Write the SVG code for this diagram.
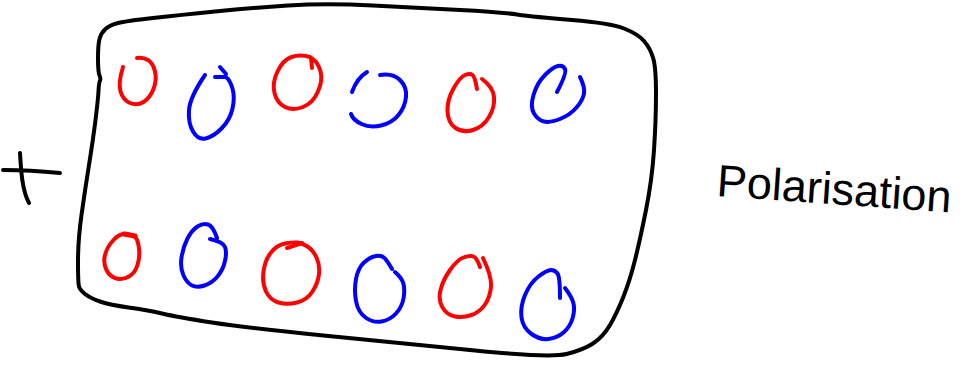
<svg xmlns="http://www.w3.org/2000/svg" width="962" height="371" viewBox="0 0 962 371">
<style>
.ink{fill:none;stroke-linecap:round;stroke-linejoin:round}
.k{stroke:#000;stroke-width:4}
.r{stroke:#ff0000;stroke-width:4}
.b{stroke:#0000ff;stroke-width:4}
.lbl{font-family:"Liberation Sans","DejaVu Sans",sans-serif;font-size:45px;fill:#000}
</style>
<rect width="962" height="371" fill="#fff"/>
<g id="connectors"></g>
<g id="plus" class="ink k">
<path d="M3,170 Q30,170 60,173"/>
<path d="M20,153 C21,170 22,190 29,203"/>
</g>
<g id="box" class="ink k">
<path d="M95.5,120 Q98,100 98.5,91 Q99,82 100,80.5 Q101,79 99.5,75.5 Q98,72 98,58.5 Q98,45 99.5,39 Q101,33 105.5,29 Q110,25 118,23 Q126,21 153,18 Q180,15 215,11.5 Q250,8 288,5.5 Q326,3 373,5.5 Q420,8 460,10 Q500,12 517,14.5 Q534,17 572,20 Q610,23 624,28.5 Q638,34 644,41 Q650,48 653,57.5 Q656,67 656,93.5 Q656,120 654,150 Q652,180 646,210 Q640,240 635,260 Q630,280 623.5,296.5 Q617,313 610,325 Q603,337 593,343.5 Q583,350 566.5,354 Q550,358 475,350.5 Q400,343 323.5,335.5 Q247,328 212,322.5 Q177,317 162,313.5 Q147,310 128.5,307.5 Q110,305 100,301.5 Q90,298 85,294 Q80,290 79,286.5 Q78,283 78,261.5 Q78,240 81.5,215 Q85,190 89,165 Q93,140 95.5,120 Z"/>
</g>
<g id="charge-top-1" class="ink r">
<path d="M123,67 Q118,83 120.5,91.5 Q123,100 130,103 Q137,106 143.5,102 Q150,98 153.5,89 Q157,80 155,71.5 Q153,63 148,60 Q143,57 137,58"/>
</g>
<g id="charge-top-2" class="ink b">
<path d="M205,75 Q190,97 189,110 Q188,123 193,131.5 Q198,140 205.5,138.5 Q213,137 221.5,128.5 Q230,120 232.5,108.5 Q235,97 232.5,88.5 Q230,80 226,77 L215,77"/>
<path d="M220,67 L226,74"/>
</g>
<g id="charge-top-3" class="ink r">
<path d="M310,57 Q300,54 291.5,57 Q283,60 277.5,71.5 Q272,83 274.5,93 Q277,103 285,107 Q293,111 303,107 Q313,103 318,91.5 Q323,80 320.5,71.5 Q318,63 314,60 Q310,57 310,57"/>
<path d="M311,58 L312,68"/>
</g>
<g id="charge-top-4" class="ink b">
<path d="M352,92 Q357,78 367,72"/>
<path d="M380,75 Q393,73 400,80 Q407,87 406,97 Q405,107 398.5,115 Q392,123 381,125.5 Q370,128 361.5,124 Q353,120 351,114"/>
</g>
<g id="charge-top-5" class="ink r">
<path d="M477,89 Q475,77 472.5,75 Q470,73 465,75 Q460,77 453.5,88.5 Q447,100 447.5,111.5 Q448,123 455.5,128 Q463,133 473,130 Q483,127 489,117 Q495,107 494,97 Q493,87 482,79"/>
</g>
<g id="charge-top-6" class="ink b">
<path d="M557,92 Q567,73 565,69 Q563,65 558,66 Q553,67 545,75 Q537,83 533.5,95 Q530,107 534,113.5 Q538,120 544,121.5 Q550,123 560,119 Q570,115 576.5,107.5 Q583,100 584,93.5 Q585,87 580,77"/>
</g>
<g id="charge-bottom-1" class="ink r">
<path d="M126.5,234 Q120,233 113.5,240 Q107,247 105,255 Q103,263 106.5,270 Q110,277 116.5,278.5 Q123,280 129,276.5 Q135,273 137.5,265 Q140,257 139,248.5 Q138,240 135.5,237.5 Q133,235 126.5,234 Z"/>
<path d="M124,234 L135,236" stroke-width="5"/>
</g>
<g id="charge-bottom-2" class="ink b">
<path d="M217,238 Q213,226 208,224.5 Q203,223 197.5,226.5 Q192,230 187.5,238.5 Q183,247 181.5,257.5 Q180,268 183.5,275.5 Q187,283 192,285.5 Q197,288 204.5,285.5 Q212,283 217.5,276.5 Q223,270 225,261 Q227,252 225,247 Q223,242 210,239"/>
</g>
<g id="charge-bottom-3" class="ink r">
<path d="M307.5,246.5 Q302,243 297.5,242.5 Q293,242 285,243.5 Q277,245 271,252.5 Q265,260 263.5,271.5 Q262,283 266,291.5 Q270,300 278.5,302.5 Q287,305 297,302.5 Q307,300 312.5,291.5 Q318,283 319,274 Q320,265 316.5,257.5 Q313,250 307.5,246.5 Z"/>
<path d="M287,248 L302,243"/>
</g>
<g id="charge-bottom-4" class="ink b">
<path d="M392,269 Q388,262 385,258.5 Q382,255 376,256 Q370,257 364,262.5 Q358,268 356,279 Q354,290 356,301 Q358,312 365.5,317.5 Q373,323 381.5,321.5 Q390,320 396,313.5 Q402,307 403.5,298.5 Q405,290 403.5,284 Q402,278 395,272"/>
</g>
<g id="charge-bottom-5" class="ink r">
<path d="M480,267 Q477,258 473.5,256.5 Q470,255 463.5,257.5 Q457,260 450,270 Q443,280 440.5,290 Q438,300 442.5,307.5 Q447,315 455,316.5 Q463,318 471.5,315 Q480,312 485,304.5 Q490,297 491,287 Q492,277 483,258"/>
</g>
<g id="charge-bottom-6" class="ink b">
<path d="M560,298 Q560,277 557.5,273.5 Q555,270 551,270 Q547,270 538.5,276.5 Q530,283 525,295 Q520,307 521.5,317.5 Q523,328 531.5,334 Q540,340 548.5,339 Q557,338 563.5,332.5 Q570,327 572.5,318.5 Q575,310 573.5,303.5 Q572,297 565,288"/>
</g>
<g id="label">
<text class="lbl" x="716" y="196" transform="rotate(4 716 196)">Polarisation</text>
</g>
</svg>
